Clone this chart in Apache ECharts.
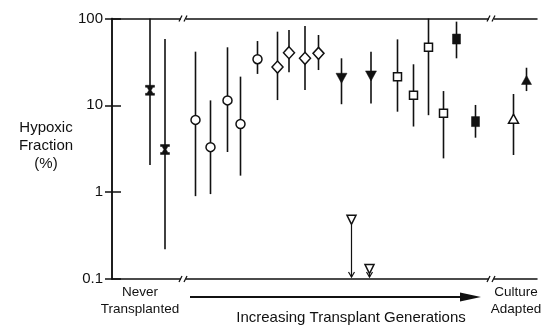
<!DOCTYPE html>
<html>
<head>
<meta charset="utf-8">
<script src="https://cdn.jsdelivr.net/npm/echarts@6/dist/echarts.min.js"></script>
<style>
  html, body { margin: 0; padding: 0; background: #fff; }
  #chart { width: 543px; height: 325px; }
</style>
</head>
<body>
<div id="chart"></div>
<script>
// Each entry: [position along transplant history, hypoxic fraction (%), lower bound, upper bound]
const neverTransplanted = [[7.6, 14.9, 2.06, 100], [10.6, 3.1, 0.22, 58]];
const openCircles = [[16.7, 6.8, 0.90, 41.5], [19.7, 3.3, 0.95, 11.4], [23.1, 11.4, 2.9, 46.6], [25.7, 6.1, 1.55, 21.4], [29.1, 34, 23, 55]];
const openDiamonds = [[33.1, 27.6, 11.5, 70.5], [35.4, 40.4, 24, 73.7], [38.6, 34.8, 15, 82], [41.3, 39.7, 25.5, 64.6]];
const filledDownTriangles = [[45.9, 20.5, 10.3, 34.8], [51.8, 21.8, 10.5, 41.5]];
const openSquares = [[57.1, 21.4, 8.45, 57.5], [60.3, 13.1, 5.7, 29.7], [63.3, 46.6, 7.7, 100], [66.3, 8.1, 2.45, 14.6]];
const filledSquares = [[68.9, 58, 34.8, 92], [72.7, 6.5, 4.24, 10.1]];
const cultureOpenTriangle = [[80.3, 7.0, 2.68, 13.5]];
const cultureFilledTriangle = [[82.9, 19.6, 14.6, 27.1]];
// Upper limits only: [position, hypoxic fraction (%)]
const upperLimits = [[47.9, 0.48], [51.5, 0.13]];

const yMin = 0.1, yMax = 100;
const xMin = 0, xMax = 85;
const axisBreaks = [14.4, 76];

const yTitle = ['Hypoxic', 'Fraction', '(%)'];
const leftGroupLabel = ['Never', 'Transplanted'];
const rightGroupLabel = ['Culture', 'Adapted'];
const arrowLabel = 'Increasing Transplant Generations';

const FONT = '"Liberation Sans", Arial, Helvetica, sans-serif';
const INK = '#111';

const withBars = [neverTransplanted, openCircles, openDiamonds, filledDownTriangles,
  openSquares, filledSquares, cultureOpenTriangle, cultureFilledTriangle];
const errorBars = [].concat(...withBars.map(g => g.map(d => [d[0], d[2], d[3]])));

// Bold "x" with flat top and bottom serifs
const xMark = 'path://M0,0H10V2H8.2L6.3,5L8.2,8H10V10H0V8H1.8L3.7,5L1.8,2H0Z';

function markerSeries(group, symbol, size, filled, rotate) {
  return {
    type: 'scatter',
    data: group.map(d => [d[0], d[1]]),
    symbol: symbol,
    symbolSize: size,
    symbolRotate: rotate || 0,
    itemStyle: { color: filled ? INK : '#fff', borderColor: INK, borderWidth: filled ? 0.5 : 1.5, opacity: 1 },
    z: 4,
    silent: true
  };
}

const chart = echarts.init(document.getElementById('chart'));
chart.setOption({
  backgroundColor: '#fff',
  animation: false,
  grid: { left: 112, right: 6, top: 18.5, bottom: 46 },
  xAxis: [
    { type: 'value', min: xMin, max: xMax, position: 'bottom',
      axisLine: { show: true, lineStyle: { color: INK, width: 1.5 } },
      axisTick: { show: false }, axisLabel: { show: false }, splitLine: { show: false } },
    { type: 'value', min: xMin, max: xMax, position: 'top',
      axisLine: { show: true, lineStyle: { color: INK, width: 1.5 } },
      axisTick: { show: false }, axisLabel: { show: false }, splitLine: { show: false } }
  ],
  yAxis: [
    { type: 'log', logBase: 10, min: yMin, max: yMax, position: 'left',
      axisLine: { show: true, lineStyle: { color: INK, width: 1.5 } },
      axisTick: { show: true, inside: true, length: 9, lineStyle: { color: INK, width: 1.5 } },
      axisLabel: { color: INK, fontFamily: FONT, fontSize: 15, margin: 9,
        formatter: v => String(Number(v.toPrecision(3))) },
      splitLine: { show: false } },
    { type: 'log', logBase: 10, min: yMin, max: yMax, position: 'right',
      axisLine: { show: true, lineStyle: { color: INK, width: 1.5 } },
      axisTick: { show: true, inside: true, length: 7, lineStyle: { color: INK, width: 1.5 } },
      axisLabel: { show: false }, splitLine: { show: false } }
  ],
  series: [
    {
      type: 'custom',
      data: errorBars,
      encode: { x: 0, y: [1, 2] },
      z: 2,
      silent: true,
      renderItem: (params, api) => {
        const lo = api.coord([api.value(0), api.value(1)]);
        const hi = api.coord([api.value(0), api.value(2)]);
        return { type: 'line', shape: { x1: lo[0], y1: lo[1], x2: hi[0], y2: hi[1] },
          style: { stroke: INK, lineWidth: 1.6 } };
      }
    },
    {
      type: 'custom',
      data: upperLimits,
      encode: { x: 0, y: 1 },
      z: 2,
      silent: true,
      renderItem: (params, api) => {
        const p = api.coord([api.value(0), api.value(1)]);
        const b = api.coord([api.value(0), yMin]);
        const x = p[0], yA = p[1] + 5, yB = b[1] - 2;
        return { type: 'group', children: [
          { type: 'line', shape: { x1: x, y1: yA, x2: x, y2: yB }, style: { stroke: INK, lineWidth: 1.2 } },
          { type: 'polyline', shape: { points: [[x - 3, yB - 5], [x, yB], [x + 3, yB - 5]] },
            style: { stroke: INK, lineWidth: 1.2, fill: null } }
        ] };
      }
    },
    markerSeries(neverTransplanted, xMark, [9, 10], true),
    markerSeries(openCircles, 'circle', 9, false),
    markerSeries(openDiamonds, 'diamond', [11, 12], false),
    markerSeries(filledDownTriangles, 'triangle', [11, 10], true, 180),
    markerSeries(openSquares, 'rect', 8, false),
    markerSeries(filledSquares, 'rect', [8, 10], true),
    markerSeries(cultureOpenTriangle, 'triangle', [10, 9], false),
    markerSeries(cultureFilledTriangle, 'triangle', [10, 9], true),
    markerSeries(upperLimits, 'triangle', [9, 9], false, 180)
  ]
});

// Axis-break marks, title text and the transplant-generation arrow
const yBottom = chart.convertToPixel({ yAxisIndex: 0 }, yMin);
const yTop = chart.convertToPixel({ yAxisIndex: 0 }, yMax);
const extras = [];
axisBreaks.forEach(b => {
  const x = chart.convertToPixel({ xAxisIndex: 0 }, b);
  [yBottom, yTop].forEach(y => {
    extras.push({ type: 'rect', shape: { x: x - 3, y: y - 3, width: 5, height: 6 }, style: { fill: '#fff' }, z: 10 });
    extras.push({ type: 'line', shape: { x1: x - 5, y1: y + 3, x2: x - 2, y2: y - 3 }, style: { stroke: INK, lineWidth: 1.3 }, z: 11 });
    extras.push({ type: 'line', shape: { x1: x, y1: y + 3, x2: x + 3, y2: y - 3 }, style: { stroke: INK, lineWidth: 1.3 }, z: 11 });
  });
});

function textLine(str, x, y, size) {
  return { type: 'text', x: x, y: y, z: 12,
    style: { text: str, fill: INK, font: size + 'px ' + FONT, textAlign: 'center', textVerticalAlign: 'middle' } };
}
yTitle.forEach((t, i) => extras.push(textLine(t, 46, 128 + i * 18, 15)));
leftGroupLabel.forEach((t, i) => extras.push(textLine(t, 140, 292 + i * 17, 13.5)));
rightGroupLabel.forEach((t, i) => extras.push(textLine(t, 516, 292 + i * 17, 13.5)));
extras.push(textLine(arrowLabel, 351, 318, 15));

const arrowY = 297;
extras.push({ type: 'line', shape: { x1: 190, y1: arrowY, x2: 464, y2: arrowY }, style: { stroke: INK, lineWidth: 2 }, z: 12 });
extras.push({ type: 'polygon', shape: { points: [[460, arrowY - 4.5], [481, arrowY], [460, arrowY + 4.5]] }, style: { fill: INK }, z: 12 });

chart.setOption({ graphic: extras });
</script>
</body>
</html>
